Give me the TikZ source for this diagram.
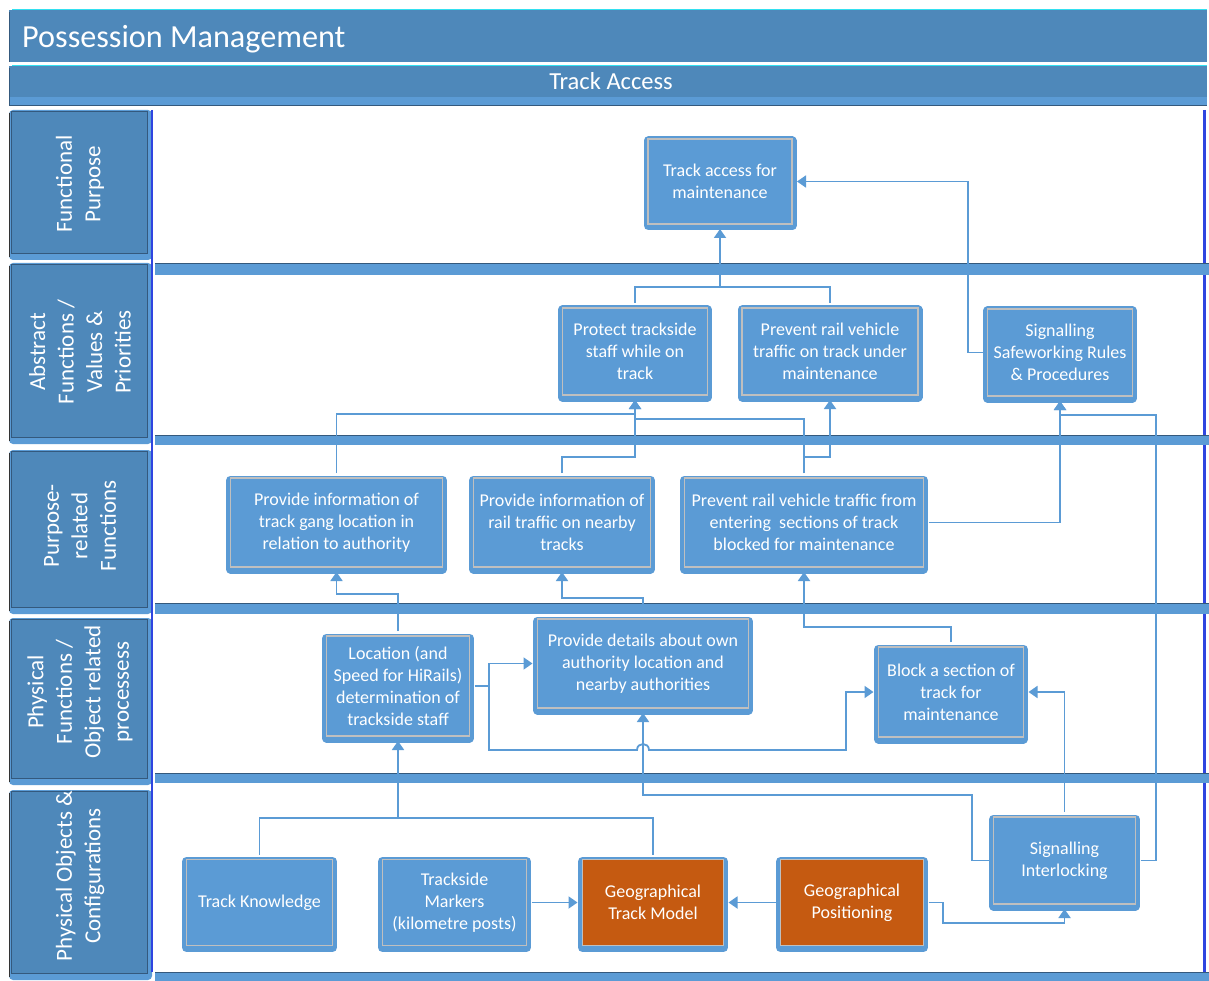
\documentclass[tikz,border=0pt]{standalone}
\usepackage{fontspec}
\setmainfont{Carlito}
\usetikzlibrary{arrows.meta}
\definecolor{nodeblue}{HTML}{5B9BD5}
\definecolor{barblue}{HTML}{4E88BA}
\definecolor{darkline}{HTML}{34597D}
\definecolor{boxgray}{HTML}{BFBFBF}
\definecolor{orangefill}{HTML}{C55A11}
\definecolor{royal}{HTML}{2F45E0}
\definecolor{lineblue}{HTML}{5B9BD5}
\definecolor{cyanedge}{HTML}{33E0F0}
\begin{document}
\begin{tikzpicture}[x=1pt,y=-1pt,
  box/.style={rectangle, fill=nodeblue, draw=boxgray, line width=1.3pt, text=white,
    align=center, font=\fontsize{18}{22}\selectfont, inner sep=1pt, outer sep=5pt,
    preaction={draw=nodeblue, line width=9pt, line join=round, transform canvas={yshift=-2pt}}},
  obox/.style={box, fill=orangefill},
  ln/.style={draw=lineblue, line width=1.8pt},
  arr/.style={ln, -{Triangle[length=9pt,width=12pt]}},
  lab/.style={rotate=90, text=white, align=center, font=\fontsize{23}{28.5}\selectfont},
  band/.style={fill=nodeblue},
]
\useasboundingbox (0,0) rectangle (1209,981);
\fill[white] (0,0) rectangle (1209,981);

% title bars
\fill[barblue] (9,10) rectangle (1207,62);
\draw[cyanedge, line width=1pt] (12,9.5) -- (1207,9.5);
\draw[darkline, line width=1pt] (9.5,12) -- (9.5,62);
\node[anchor=west, text=white, font=\fontsize{32.2}{36}\selectfont, inner sep=0pt] (title) at (22,39) {Possession Management};
\fill[barblue] (9,66) rectangle (1207,97);
\fill[nodeblue] (9,97) rectangle (1207,105);
\draw[cyanedge, line width=1pt] (12,65.5) -- (1207,65.5);
\draw[darkline, line width=1pt] (9,106) -- (1207,106);
\draw[darkline, line width=1pt] (9.5,68) -- (9.5,106);
\node[text=white, font=\fontsize{24.5}{28}\selectfont, inner sep=0pt] (access) at (611,81) {Track Access};

% label panels
\foreach \a/\b in {110/260, 263/444, 450/614, 618/785, 790/980} {
  \fill[nodeblue, rounded corners=4pt] (9,\a) rectangle (152,\b);
  \fill[barblue] (11,\a+1) rectangle (147,\b-7);
  \draw[darkline, line width=0.8pt] (11,\a+1) rectangle (147,\b-7);
  \draw[black!80, line width=1pt] (9.5,\a+3) -- (9.5,\b-3);
}
\node[lab] (l1) at (80,184) {Functional\\Purpose};
\node[lab] (l2) at (80,352) {Abstract\\Functions /\\Values \&\\Priorities};
\node[lab] (l3) at (80,526) {Purpose-\\related\\Functions};
\node[lab] (l4) at (80,692) {Physical\\Functions /\\Object related\\processess};
\node[lab] (l5) at (80,876) {Physical Objects \&\\Configurations};

% content borders
\draw[royal, line width=2pt] (152,110) -- (152,972);
\draw[royal, line width=2.5pt] (1204.5,110) -- (1204.5,972);
\foreach \a/\b in {264/275, 435/445, 603/614, 773/783, 972/981} {
  \fill[band] (155,\a) rectangle (1209,\b);
  \draw[darkline, line width=1pt] (155,\a) -- (1209,\a);
}

% nodes
\node[box, minimum width=144pt, minimum height=85pt] (TA) at (720,181.5) {Track access for\\maintenance};
\node[box, minimum width=145pt, minimum height=87pt] (PT) at (635,351.5) {Protect trackside\\staff while on\\track};
\node[box, minimum width=176pt, minimum height=87pt] (PR) at (830,351.5) {Prevent rail vehicle\\traffic on track under\\maintenance};
\node[box, minimum width=145pt, minimum height=87pt] (SS) at (1060,352.5) {Signalling\\Safeworking Rules\\\& Procedures};
\node[box, minimum width=212pt, minimum height=89pt] (PG) at (336.5,522.5) {Provide information of\\track gang location in\\relation to authority};
\node[box, minimum width=177pt, minimum height=89pt] (PN) at (562,522.5) {Provide information of\\rail traffic on nearby\\tracks};
\node[box, minimum width=239pt, minimum height=89pt] (PE) at (804,522.5) {Prevent rail vehicle traffic from\\entering\ \ sections of track\\blocked for maintenance};
\node[box, minimum width=143pt, minimum height=100pt] (LO) at (398,686) {Location (and\\Speed for HiRails)\\determination of\\trackside staff};
\node[box, minimum width=211pt, minimum height=89pt] (PD) at (643,663.5) {Provide details about own\\authority location and\\nearby authorities};
\node[box, minimum width=145pt, minimum height=90pt] (BL) at (951,692) {Block a section of\\track for\\maintenance};
\node[box, minimum width=146pt, minimum height=86pt] (TK) at (259.5,902.5) {Track Knowledge};
\node[box, minimum width=144pt, minimum height=86pt] (TM) at (454.5,902.5) {Trackside\\Markers\\(kilometre posts)};
\node[obox, minimum width=141pt, minimum height=86pt] (GT) at (653,902.5) {Geographical\\Track Model};
\node[obox, minimum width=143pt, minimum height=86pt] (GP) at (852,902.5) {Geographical\\Positioning};
\node[box, minimum width=142pt, minimum height=87pt] (SI) at (1064.5,860.5) {Signalling\\Interlocking};

% junction coordinates
\coordinate (j1) at (720,287);
\coordinate (j2) at (635,414);
\coordinate (j3) at (635,457);
\coordinate (j4) at (635,419);
\coordinate (j5) at (830,457);
\coordinate (j6) at (1156,415);
\coordinate (j8) at (972,795);
\coordinate (j9) at (398,818);
\coordinate (j10) at (943,923);
\coordinate (y594) at (0,594);
\coordinate (y598) at (0,598);
\coordinate (y627) at (0,627);
\coordinate (y750) at (0,750);
\coordinate (x489) at (489,0);
\coordinate (x968) at (968,0);

% connectors
\draw[arr] (PT.north) |- (j1) -| (TA.south);
\draw[ln] (PR.north) |- (j1);
\draw[arr] (SS.west) -- (SS.west -| x968) |- (TA.east);
\draw[arr] (PG.north) |- (j2) -- (PT.south);
\draw[arr] (PN.north) |- (j3) -- (PT.south);
\draw[ln] (PE.north) |- (j4);
\draw[arr] (PE.north) |- (j5) -- (PR.south);
\draw[arr] (PE.east) -| (SS.south);
\draw[arr] (SI.east) -| (j6) -| (SS.south);
\draw[arr] (LO.north) -- (LO.north |- y594) -| (PG.south);
\draw[arr] (PD.north) -- (PD.north |- y598) -| (PN.south);
\draw[arr] (BL.north) -- (BL.north |- y627) -| (PE.south);
\draw[arr] (LO.east) -- (LO.east -| x489) |- (PD.west);
\draw[arr] (LO.east -| x489) -- (x489 |- y750) -- (637,750) .. controls (637,742) and (649,742) .. (649,750) -- (846,750) |- (BL.west);
\draw[arr] (SI.west) -| (j8) -| (PD.south);
\draw[arr] (TK.north) |- (j9) -- (LO.south);
\draw[ln] (GT.north) |- (j9);
\draw[arr] (TM.east) -- (GT.west);
\draw[arr] (GP.west) -- (GT.east);
\draw[arr] (GP.east) -| (j10) -| (SI.south);
\draw[arr] (SI.north) |- (BL.east);
\end{tikzpicture}
\end{document}
